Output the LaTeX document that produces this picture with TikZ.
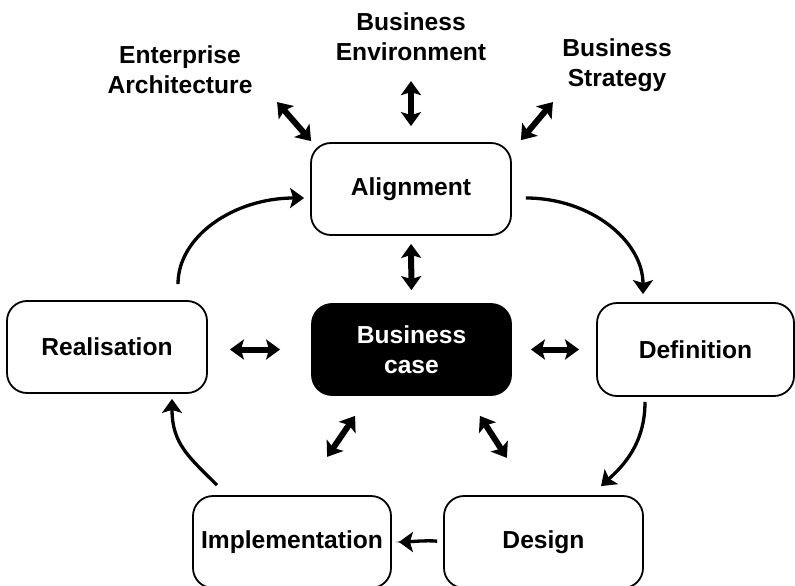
\documentclass[tikz,border=0pt]{standalone}
\usepackage{fontspec}
\setmainfont{Liberation Sans}
\usetikzlibrary{arrows.meta}
\begin{document}
\begin{tikzpicture}[x=1pt,y=-1pt,
  font=\fontsize{24.6}{30}\selectfont\bfseries,
  box/.style={draw=black,line width=1.8pt,rounded corners=20pt,fill=white,
    align=center,inner sep=0pt},
  lbl/.style={align=center,inner sep=0pt},
  dbl/.style={line width=6pt,{Stealth[length=14pt,width=20pt,inset=3pt]}-{Stealth[length=14pt,width=20pt,inset=3pt]}},
  sgl/.style={line width=3.3pt,-{Stealth[length=14pt,width=20pt,inset=3pt]}}]
\useasboundingbox (0,0) rectangle (795,586);
% boxes
\node[box,minimum width=200pt,minimum height=92pt] (al) at (411,189) {Alignment};
\node[box,fill=black,text=white,minimum width=199pt,minimum height=91pt] (bc) at (411.5,349.5) {Business\\case};
\node[box,minimum width=200pt,minimum height=92pt] (re) at (107,347) {Realisation};
\node[box,minimum width=197pt,minimum height=93pt] (de) at (695.5,349.5) {Definition};
\node[box,minimum width=198pt,minimum height=92pt] (im) at (292,542) {Implementation};
\node[box,minimum width=199pt,minimum height=92pt] (ds) at (543.5,542) {Design};
% labels
\node[lbl] (ea) at (180,70) {Enterprise\\Architecture};
\node[lbl] (be) at (411,37) {Business\\Environment};
\node[lbl] (bs) at (617,65) {Business\\Strategy};
% double arrows
\draw[dbl] ([shift={(-33,-40)}]al.north west) -- ([shift={(1,-1)}]al.north west);
\draw[dbl] ([shift={(0,-61)}]al.north) -- ([shift={(0,-16)}]al.north);
\draw[dbl] ([shift={(9,-2)}]al.north east) -- ([shift={(41,-40)}]al.north east);
\draw[dbl,shorten <=8pt,shorten >=13pt] (al.south) -- (bc.north);
\draw[dbl,shorten <=22pt,shorten >=31pt] (re.east |- bc.west) -- (bc.west);
\draw[dbl,shorten <=19pt,shorten >=17pt] (bc.east) -- (bc.east -| de.west);
\draw[dbl] ([shift={(44,20)}]bc.south west) -- ([shift={(16,61)}]bc.south west);
\draw[dbl] ([shift={(-32,20)}]bc.south east) -- ([shift={(-5,62)}]bc.south east);
% cycle arrows
\draw[sgl] ([shift={(71,-16)}]re.north) .. controls +(0,-48) and +(-70,0) .. ([shift={(-6,9)}]al.west);
\draw[sgl] ([shift={(14,9)}]al.east) .. controls +(65,0) and +(0,-53) .. ([shift={(-52.5,-8)}]de.north);
\draw[sgl] ([shift={(-50.5,5)}]de.south) .. controls +(0,42) and +(22,-20) .. ([shift={(57.5,-9)}]ds.north);
\draw[sgl,shorten <=6pt,shorten >=7pt] (ds.west) .. controls +(-15,-2) and +(12,0) .. (im.east);
\draw[sgl] ([shift={(-75,-10)}]im.north) .. controls +(-28,-28) and +(0,45) .. ([shift={(65,5)}]re.south);
\end{tikzpicture}
\end{document}
